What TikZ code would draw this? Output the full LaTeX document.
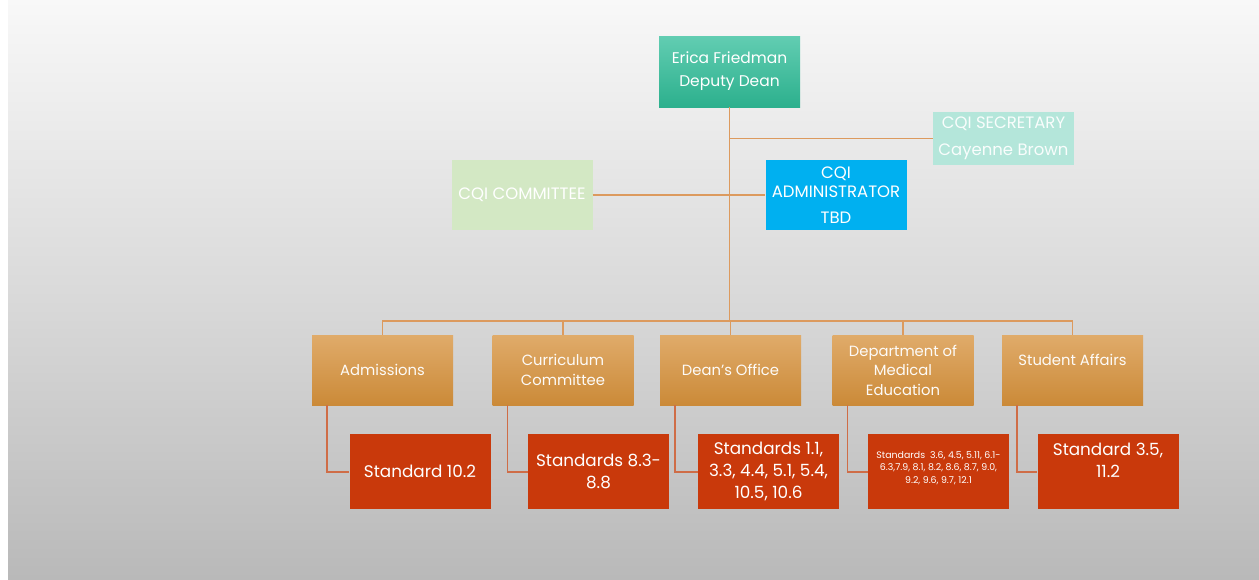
\documentclass[tikz,border=0pt]{standalone}
\usepackage{fontspec}
\setmainfont{Poppins}
\usetikzlibrary{calc}

\definecolor{bgtop}{HTML}{F8F8F8}
\definecolor{bgmid}{HTML}{DADADA}
\definecolor{bgbot}{HTML}{B9B9B9}
\definecolor{tealtop}{HTML}{62CDB2}
\definecolor{tealbot}{HTML}{2CB08D}
\definecolor{secfill}{HTML}{B4E6DA}
\definecolor{comfill}{HTML}{D3E8C4}
\definecolor{admfill}{HTML}{00B0F0}
\definecolor{orgtop}{HTML}{E0AB6A}
\definecolor{orgbot}{HTML}{CB8A38}
\definecolor{redfill}{HTML}{C9390B}
\definecolor{linkup}{HTML}{DC9A5E}
\definecolor{linkdown}{HTML}{CF6D47}

\tikzset{
  x=1pt, y=-1pt,
  box/.style={minimum width=141pt, inner sep=1pt, align=center,
    text=white, font=\fontsize{15}{21}\selectfont},
  capsfont/.style={font=\fontsize{16.5}{19}\selectfont},
  headbox/.style={box, minimum height=71pt, top color=tealtop, bottom color=tealbot},
  secbox/.style={box, capsfont, minimum height=53pt, fill=secfill, text=white!92!secfill},
  combox/.style={box, capsfont, minimum height=70pt, fill=comfill},
  admbox/.style={box, capsfont, minimum height=70pt, fill=admfill},
  unitbox/.style={box, minimum height=70pt, top color=orgtop, bottom color=orgbot,
    text=white!95!orgtop, font=\fontsize{14.8}{19.5}\selectfont},
  stdbox/.style={box, minimum height=75pt, fill=redfill,
    font=\fontsize{16.8}{22}\selectfont},
  overlaytext/.style={inner sep=0pt, align=center, text=white},
  uplink/.style={draw=linkup, line width=1.7pt},
  downlink/.style={draw=linkdown, line width=1.5pt},
}

\begin{document}
\begin{tikzpicture}
  % page background: white strip on the left, grey gradient elsewhere
  \useasboundingbox (0,0) rectangle (1259,579);
  \fill[white] (0,0) rectangle (1259,579);
  \shade[top color=bgtop, bottom color=bgbot, middle color=bgmid] (8,0) rectangle (1259,579);

  % leadership
  \node[headbox] (head) at (729.5,71.5) {};
  \node[overlaytext, font=\fontsize{15.5}{23}\selectfont] (headtext)
    at ($(head.center)+(0,-0.5)$) {Erica Friedman\\Deputy Dean};
  \node[secbox]  (sec)  at (1003.5,138.5) {CQI SECRETARY\\[8pt]Cayenne Brown};
  \node[combox]  (com)  at (522,195) {CQI COMMITTEE};
  \node[admbox]  (adm)  at (836,195) {CQI\\ADMINISTRATOR\\[7pt]TBD};

  % units
  \node[unitbox] (u1) at (382.5,370) {Admissions};
  \node[unitbox] (u2) at (563,370)   {Curriculum\\Committee};
  \node[unitbox] (u3) at (730.5,370) {Dean's Office};
  \node[unitbox] (u4) at (903,370)   {Department of\\Medical\\Education};
  \node[unitbox] (u5) at (1072.5,370) {};
  \node[overlaytext, font=\fontsize{14.8}{19.5}\selectfont, text=white!95!orgtop]
    (u5text) at ($(u5.center)+(0,-10)$) {Student Affairs};

  % standards
  \node[stdbox] (s1) at (420,471.5)   {Standard 10.2};
  \node[stdbox] (s2) at (598.5,471.5) {Standards 8.3-\\8.8};
  \node[stdbox] (s3) at (768.5,471.5) {Standards 1.1,\\3.3, 4.4, 5.1, 5.4,\\10.5, 10.6};
  \node[stdbox] (s4) at (938.5,471.5) {};
  \node[overlaytext, font=\fontsize{9.4}{12.8}\selectfont] (s4text)
    at ($(s4.center)+(0,-3.5)$)
    {Standards\ \ 3.6, 4.5, 5.11, 6.1-\\6.3,7.9, 8.1, 8.2, 8.6, 8.7, 9.0,\\9.2, 9.6, 9.7, 12.1};
  \node[stdbox] (s5) at (1108,471.5) {};
  \node[overlaytext, font=\fontsize{16.8}{22}\selectfont] (s5text)
    at ($(s5.center)+(0,-11)$) {Standard 3.5,\\11.2};

  % reporting lines
  \coordinate (bus) at (729.5,321);
  \draw[uplink] (head.south) -- (bus);
  \draw[uplink] (head.south |- sec.west) -- (sec.west);
  \draw[uplink] (com.east) -- (adm.west);
  \draw[uplink] (u1.north) |- (bus) -| (u5.north);
  \foreach \u in {u2,u3,u4} \draw[uplink] (\u.north) -- (\u.north |- bus);

  \foreach \u/\s in {u1/s1,u2/s2,u3/s3,u4/s4,u5/s5}
    \draw[downlink] ($(\u.south west)+(15,0)$) |- ($(\s.west)+(0,0.5)$);
\end{tikzpicture}
\end{document}
